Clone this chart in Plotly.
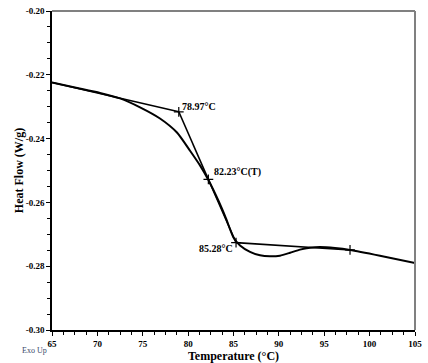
import plotly.graph_objects as go

# Data curve (DSC heat flow)
temp = [65.0, 67.53, 70.29, 72.49, 74.70, 76.90, 78.77, 80.21, 81.31, 82.22, 83.33,
        84.17, 84.98, 85.72, 86.82, 87.92, 89.02, 90.12, 91.23, 92.33, 93.43, 94.53,
        96.18, 97.84, 101.14, 105.0]
heat_flow = [-0.2224, -0.2240, -0.2257, -0.2274, -0.2302, -0.2337, -0.2381, -0.2438,
             -0.2484, -0.2529, -0.2594, -0.2650, -0.2709, -0.2735, -0.2755, -0.2766,
             -0.2769, -0.2767, -0.2758, -0.2748, -0.2742, -0.2740, -0.2743, -0.2749,
             -0.2767, -0.2790]

# Glass transition analysis
onset_t, onset_v = 78.97, -0.2316
mid_t, mid_v = 82.23, -0.2528
end_t, end_v = 85.28, -0.2726
base_start_t, base_start_v = 65.0, -0.2224
base_end_t, base_end_v = 97.84, -0.2749

x_ticks = [65, 70, 75, 80, 85, 90, 95, 100, 105]
y_ticks = [-0.30, -0.28, -0.26, -0.24, -0.22, -0.20]

serif = "Liberation Serif"
fig = go.Figure()

fig.add_trace(go.Scatter(x=temp, y=heat_flow, mode="lines", line=dict(color="black", width=2, shape="spline", smoothing=0.6), hoverinfo="skip"))
# pre baseline
fig.add_trace(go.Scatter(x=[base_start_t, onset_t], y=[base_start_v, onset_v], mode="lines", line=dict(color="black", width=1.6)))
# inflection tangent
fig.add_trace(go.Scatter(x=[onset_t, mid_t, end_t], y=[onset_v, mid_v, end_v], mode="lines", line=dict(color="black", width=1.6)))
# post baseline
fig.add_trace(go.Scatter(x=[end_t, base_end_t], y=[end_v, base_end_v], mode="lines", line=dict(color="black", width=1.6)))
# markers
fig.add_trace(go.Scatter(x=[onset_t, mid_t, end_t, base_end_t], y=[onset_v, mid_v, end_v, base_end_v], mode="markers",
                         marker=dict(symbol="cross-thin", size=7, line=dict(color="black", width=1.2))))

fig.add_annotation(x=onset_t, y=onset_v, text=f"<b>{onset_t:.2f}°C</b>", showarrow=False, xanchor="left", yanchor="middle",
                   xshift=1, yshift=5, font=dict(family=serif, size=10, color="black"))
fig.add_annotation(x=mid_t, y=mid_v, text=f"<b>{mid_t:.2f}°C(T)</b>", showarrow=False, xanchor="left", yanchor="middle",
                   xshift=4, yshift=7, font=dict(family=serif, size=10, color="black"))
fig.add_annotation(x=end_t, y=end_v, text=f"<b>{end_t:.2f}°C</b>", showarrow=False, xanchor="right", yanchor="middle",
                   xshift=-1, yshift=-6, font=dict(family=serif, size=10, color="black"))
fig.add_annotation(xref="paper", yref="paper", x=-0.047, y=-0.063, text="Exo Up", showarrow=False, xanchor="center", yanchor="middle",
                   font=dict(family=serif, size=8, color="#3a4a6a"))

# top and right borders (gray)
fig.add_shape(type="line", xref="paper", yref="paper", x0=0, x1=1, y0=1, y1=1, line=dict(color="#808080", width=2))
fig.add_shape(type="line", xref="paper", yref="paper", x0=1, x1=1, y0=0, y1=1, line=dict(color="#808080", width=2))

fig.update_layout(
    width=428, height=363, showlegend=False,
    margin=dict(l=52, r=13, t=11, b=33, autoexpand=False),
    paper_bgcolor="white", plot_bgcolor="white",
    font=dict(family=serif, color="black"),
    xaxis=dict(range=[65, 105], tickvals=x_ticks, ticktext=[f"<b>{v}</b>" for v in x_ticks],
               ticks="outside", ticklen=4, tickwidth=1, tickcolor="black", automargin=False,
               minor=dict(dtick=1.25, ticks="outside", ticklen=3, tickcolor="black"),
               showline=True, linecolor="black", linewidth=1.5, showgrid=False, zeroline=False,
               tickfont=dict(family=serif, size=9),
               title=dict(text="<b>Temperature (°C)</b>", font=dict(family=serif, size=12), standoff=0)),
    yaxis=dict(range=[-0.30, -0.20], tickvals=y_ticks, ticktext=[f"<b>{v:.2f}</b>" for v in y_ticks],
               ticks="outside", ticklen=4, tickwidth=1, tickcolor="black", automargin=False,
               minor=dict(dtick=0.005, ticks="outside", ticklen=3, tickcolor="black"),
               showline=True, linecolor="black", linewidth=1.5, showgrid=False, zeroline=False,
               tickfont=dict(family=serif, size=9),
               title=dict(text="<b>Heat Flow (W/g)</b>", font=dict(family=serif, size=12), standoff=0)),
)

fig.write_html("out.html", config={"displayModeBar": False},
               post_script="document.body.style.margin='0';document.body.style.overflow='hidden';")
